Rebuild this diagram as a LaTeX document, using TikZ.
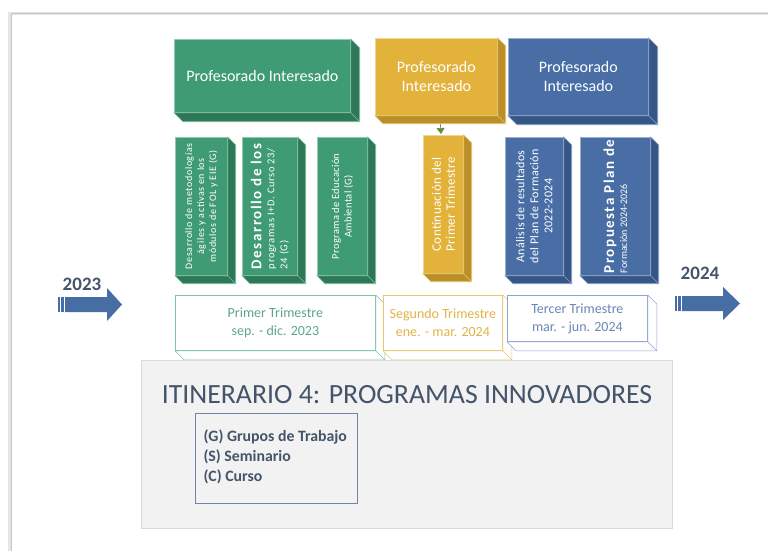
\documentclass[tikz,border=0pt]{standalone}
\usepackage{fontspec}
\setmainfont{Carlito}
\newfontfamily\spacedA[LetterSpace=6]{Carlito}
\newfontfamily\spacedB[LetterSpace=10]{Carlito}
\newfontfamily\spacedC[LetterSpace=3]{Carlito}
\usetikzlibrary{calc,arrows.meta}
\definecolor{gfront}{RGB}{63,155,116}
\definecolor{gside}{RGB}{46,120,88}
\definecolor{yfront}{RGB}{226,178,58}
\definecolor{yside}{RGB}{186,143,40}
\definecolor{bfront}{RGB}{72,110,165}
\definecolor{bside}{RGB}{54,86,134}
\definecolor{slate}{RGB}{68,84,106}
\definecolor{arrowblue}{RGB}{70,110,165}
\definecolor{gline}{RGB}{125,195,165}
\definecolor{yline}{RGB}{232,200,110}
\definecolor{bline}{RGB}{140,165,205}
\definecolor{gtext}{RGB}{95,165,135}
\definecolor{ytext}{RGB}{226,180,70}
\definecolor{btext}{RGB}{105,135,185}
\definecolor{olivetip}{RGB}{105,140,60}
\newcommand\depthof[4]{%
  \filldraw[fill=#2, draw=#3, line width=0.6pt] (#1.north east) -- ++(#4,#4) -- ($(#1.south east)+(#4,#4)$) -- ($(#1.south west)+(#4,#4)$) -- (#1.south west) -- (#1.south east) -- cycle;
  \draw[#3, line width=0.6pt] (#1.south east) -- ++(#4,#4);}
\tikzset{
  face/.style={fill=#1, draw=#1!55!white, line width=0.7pt, inner sep=0pt, anchor=north west},
  trim/.style={fill=white, draw=#1, line width=0.8pt, inner sep=0pt, anchor=north west},
  toptext/.style={text=white, font=\fontsize{16}{19}\selectfont, align=center},
  vtext/.style={text=white, rotate=90, align=center, inner sep=0pt},
  trimtext/.style={font=\fontsize{14}{18}\selectfont, align=center}
}
\begin{document}
\begin{tikzpicture}[x=1pt,y=-1pt]
\useasboundingbox (0,0) rectangle (768,550);
\fill[white] (0,0) rectangle (768,550);
% outer frame
\draw[black!10, line width=3pt] (9.5,551) -- (9.5,13) -- (769,13);
\draw[black!22, line width=0.8pt] (11,551) -- (11,13.5) -- (769,13.5);

% top boxes
\node[face=gfront, minimum width=176pt, minimum height=73pt] (gt) at (174,39) {};
\depthof{gt}{gside}{gline}{9}
\node[toptext] (gtt) at (gt.center) {Profesorado Interesado};

\node[face=yfront, minimum width=122pt, minimum height=77pt] (yt) at (375,38) {};
\depthof{yt}{yside}{yline}{8}
\node[toptext] (ytt) at (yt.center) {Profesorado\\Interesado};

\node[face=bfront, minimum width=140pt, minimum height=77pt] (bt) at (508,38) {};
\depthof{bt}{bside}{bline}{9}
\node[toptext] (btt) at (bt.center) {Profesorado\\Interesado};

% vertical boxes
\node[face=gfront, minimum width=52pt, minimum height=138pt] (v1) at (175,137) {};
\depthof{v1}{gside}{gline}{8}
\node[vtext, font=\spacedA\fontsize{10}{12}\selectfont] (v1t) at (v1.center) {Desarrollo de metodologías\\ágiles y activas en los\\módulos de FOL y EIE (G)};

\node[face=gfront, minimum width=55pt, minimum height=138pt] (v2) at (242,137) {};
\depthof{v2}{gside}{gline}{8}
\node[vtext, align=left, font=\spacedA\fontsize{10.5}{13}\selectfont] (v2t) at (v2.center) {{\spacedB\fontsize{15}{15}\selectfont\bfseries Desarrollo de los}\\programas I+D. Curso 23/\\24 (G)};

\node[face=gfront, minimum width=50pt, minimum height=138pt] (v3) at (317,137) {};
\depthof{v3}{gside}{gline}{8}
\node[vtext, font=\spacedC\fontsize{10.5}{12.5}\selectfont] (v3t) at (v3.center) {Programa de Educación\\Ambiental (G)};

\node[face=yfront, minimum width=40pt, minimum height=138pt] (y1) at (423,135) {};
\depthof{y1}{yside}{yline}{8}
\node[vtext, font=\spacedC\fontsize{13}{14}\selectfont] (y1t) at (y1.center) {Continuación del\\Primer Trimestre};

\node[face=bfront, minimum width=58pt, minimum height=138pt] (u1) at (505,137) {};
\depthof{u1}{bside}{bline}{8}
\node[vtext, font=\spacedC\fontsize{12}{14}\selectfont] (u1t) at (u1.center) {Análisis de resultados\\del Plan de Formación\\2022-2024};

\node[face=bfront, minimum width=70pt, minimum height=138pt] (u2) at (580,137) {};
\depthof{u2}{bside}{bline}{8}
\node[vtext, align=left, font=\fontsize{10}{13}\selectfont] (u2t) at (u2.center) {{\spacedB\fontsize{15}{15}\selectfont\bfseries Propuesta Plan de}\\Formación 2024-2026};

% connector yellow
\coordinate (ytip) at (441,134);
\draw[olivetip, line width=0.6pt, -{Triangle[length=6pt,width=8pt]}] ($(yt.south)+(4,8)$) -- (ytip);

% trimester boxes
\node[trim=gline, minimum width=200pt, minimum height=55pt] (t1) at (175,295) {};
\depthof{t1}{white}{gline}{9}
\node[trimtext, text=gtext] (t1t) at (t1.center) {Primer Trimestre\\sep. - dic. 2023};

\node[trim=yline, minimum width=119pt, minimum height=55pt] (t2) at (383,295) {};
\depthof{t2}{white}{yline}{9}
\node[trimtext, text=ytext] (t2t) at (t2.center) {Segundo Trimestre\\ene. - mar. 2024};

\node[trim=bline, minimum width=140pt, minimum height=46pt] (t3) at (507,295) {};
\depthof{t3}{white}{bline}{9}
\node[trimtext, text=btext] (t3t) at (t3.center) {Tercer Trimestre\\mar. - jun. 2024};

% year arrows
\fill[arrowblue] (65,297) -- (107,297) -- (107,288) -- (122,304.5) -- (107,321) -- (107,312) -- (65,312) -- cycle;
\fill[arrowblue] (58,297) rectangle (60,312);
\fill[arrowblue] (61.3,297) rectangle (63.8,312);
\node[text=slate, font=\fontsize{19}{19}\selectfont\bfseries] (y2023) at (82,284) {2023};

\fill[arrowblue] (682,296) -- (723,296) -- (723,287) -- (740,303.5) -- (723,320) -- (723,311) -- (682,311) -- cycle;
\fill[arrowblue] (675,296) rectangle (677,311);
\fill[arrowblue] (678.3,296) rectangle (680.8,311);
\node[text=slate, font=\fontsize{19}{19}\selectfont\bfseries] (y2024) at (700,273) {2024};

% bottom panel
\node[draw=black!15, fill=black!5, line width=0.8pt, minimum width=531pt, minimum height=168pt, anchor=north west, inner sep=0pt] (panel) at (141,360) {};
\node[text=slate, font=\fontsize{27.8}{28}\selectfont] (title) at (407,395) {ITINERARIO 4: PROGRAMAS INNOVADORES};
\node[draw=bline!80!black, fill=black!5, line width=0.7pt, minimum width=162pt, minimum height=90pt, anchor=north west, inner sep=0pt] (legend) at (195,413) {};
\node[text=slate, font=\fontsize{15.8}{20}\selectfont\bfseries, align=left, anchor=west] (legendt) at (200,457) {(G) Grupos de Trabajo\\(S) Seminario\\(C) Curso};
\end{tikzpicture}
\end{document}
